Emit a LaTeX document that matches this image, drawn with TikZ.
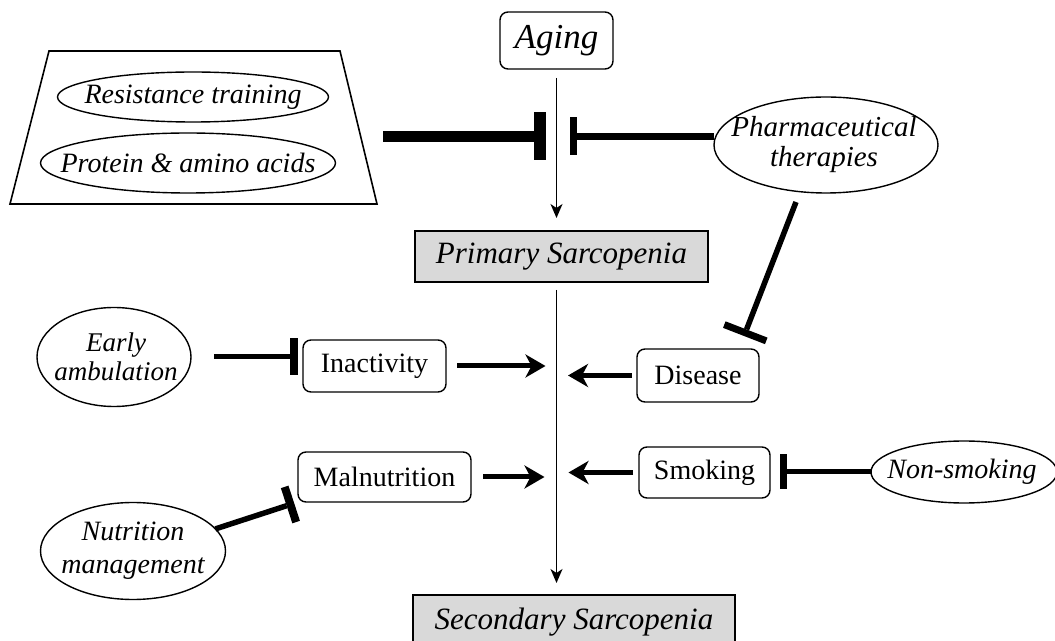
\documentclass[tikz,border=0pt]{standalone}
\usepackage{fontspec}
\setmainfont{Liberation Serif}
\usetikzlibrary{arrows.meta,shapes.geometric}
\begin{document}
\begin{tikzpicture}[x=0.5pt,y=-0.5pt,
  every node/.style={inner sep=0pt, outer sep=0pt, font=\fontsize{14}{15}\selectfont},
  rbox/.style={draw, line width=0.7pt, rounded corners=4pt, align=center},
  gbox/.style={draw, line width=0.7pt, fill=black!15, align=center, font=\fontsize{15.5}{17}\selectfont\itshape},
  oval/.style={draw, ellipse, line width=0.7pt},
  every label/.style={font=\fontsize{14}{15}\selectfont\itshape, align=center, inner sep=0pt},
  thinarrow/.style={line width=0.8pt, -{Stealth[length=7pt,width=6pt,inset=2pt]}},
  fatarrow/.style={line width=2.5pt, -{Stealth[length=10pt,width=11.5pt,inset=3pt]}},
]
\useasboundingbox (0,0) rectangle (1055,641);

% trapezoid panel
\draw[line width=0.8pt] (49,51) -- (340,51) -- (377,204) -- (10,204) -- cycle;
\node[oval, minimum width=135.5pt, minimum height=25pt, label={center:Resistance training}] (res) at (193,97) {};
\node[oval, minimum width=147.5pt, minimum height=30pt, label={center:Protein \& amino acids}] (prot) at (188,163) {};

% boxes
\node[rbox, minimum width=56.5pt, minimum height=28.5pt, font=\fontsize{17.5}{19}\selectfont\itshape] (aging) at (556.5,40.5) {Aging};
\node[gbox, minimum width=146.5pt, minimum height=25.5pt] (primary) at (561.5,256.5) {Primary Sarcopenia};
\node[rbox, minimum width=71.5pt, minimum height=26pt] (inactivity) at (374.5,366) {Inactivity};
\node[rbox, minimum width=61pt, minimum height=26.5pt] (disease) at (698,375.5) {Disease};
\node[rbox, minimum width=86.5pt, minimum height=25pt] (malnutrition) at (384.5,477) {Malnutrition};
\node[rbox, minimum width=65.5pt, minimum height=25.5pt] (smoking) at (704.5,472.5) {Smoking};
\node[gbox, minimum width=161pt, text height=17pt, text depth=15.5pt, anchor=base] (secondary) at (574,629) {Secondary Sarcopenia};

% ellipses
\node[oval, minimum width=112pt, minimum height=48pt,
  label={[font=\fontsize{14.5}{15}\selectfont\itshape, xshift=-1pt]center:Pharmaceutical\\therapies}] (pharma) at (826,145) {};
\node[oval, minimum width=77pt, minimum height=49.5pt,
  label={[font=\fontsize{13.5}{14.5}\selectfont\itshape, xshift=1pt]center:Early\\ambulation}] (early) at (114,357) {};
\node[oval, minimum width=93pt, minimum height=31pt, label={[xshift=-1pt]center:Non-smoking}] (nonsmk) at (964,472) {};
\node[oval, minimum width=92.5pt, minimum height=48.5pt,
  label={[font=\fontsize{14}{16.5}\selectfont\itshape]center:Nutrition\\management}] (nutri) at (133,551) {};

% helper coordinates
\coordinate (barL) at (383,136.5);
\coordinate (tL) at (546,136.5);
\coordinate (tR) at (570,136.5);
\coordinate (pd0) at (796,202);
\coordinate (pd1) at (744,336);

% main vertical arrows
\draw[thinarrow, shorten <=4.5pt, shorten >=6.5pt] (aging.south) -- (aging.south |- primary.north);
\draw[thinarrow, shorten <=4pt, shorten >=6pt] (primary.south -| aging.south) -- (secondary.north -| aging.south);

% inhibitions at top
\draw[line width=5.5pt, -{Rectangle[length=6pt,width=24pt,line width=0pt]}] (barL) -- (tL);
\draw[line width=3.2pt, -{Rectangle[length=3.5pt,width=19pt,line width=0pt]}] (pharma.west |- tR) -- (tR);
\draw[line width=2.75pt, -{Rectangle[length=3.5pt,width=22.5pt,line width=0pt]}] (pd0) -- (pd1);

% side inhibitions
\draw[line width=2.5pt, shorten <=11.5pt, shorten >=2.5pt, -{Rectangle[length=3.8pt,width=18.5pt,line width=0pt]}] (early.east) -- (inactivity.west |- early.east);
\draw[line width=2.5pt, shorten >=5pt, -{Rectangle[length=3.5pt,width=17.5pt,line width=0pt]}] (nonsmk.west) -- (smoking.east |- nonsmk.west);
\draw[line width=2.75pt, shorten >=2pt, -{Rectangle[length=4pt,width=18.5pt,line width=0pt]}] (nutri.15) -- (malnutrition.south west);

% causal arrows
\draw[fatarrow, shorten <=5.5pt, shorten >=5.5pt] (inactivity.east) -- (aging.south |- inactivity.east);
\draw[fatarrow, shorten <=2.5pt, shorten >=5.75pt] (disease.west) -- (aging.south |- disease.west);
\draw[fatarrow, shorten <=6pt, shorten >=6pt] (malnutrition.east) -- (aging.south |- malnutrition.east);
\draw[fatarrow, shorten <=3pt, shorten >=6pt] (smoking.west) -- (aging.south |- smoking.west);
\end{tikzpicture}
\end{document}
